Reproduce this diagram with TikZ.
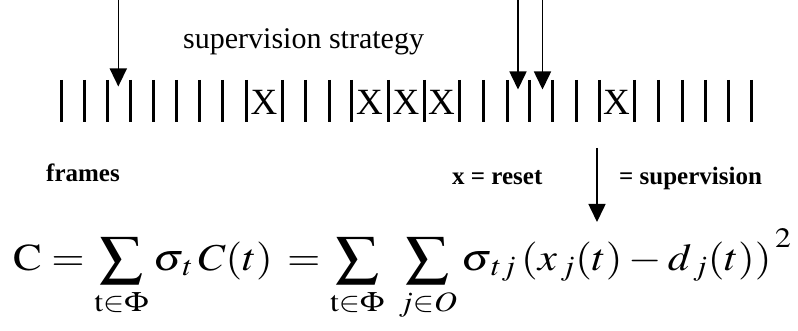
\documentclass[tikz,border=0pt]{standalone}
\usepackage{mathptmx}
\usepackage[no-math]{fontspec}
\setmainfont{Liberation Serif}
\usepackage{tikz}
\usetikzlibrary{arrows.meta}

\begin{document}
\begin{tikzpicture}[x=1pt,y=-1pt,
  slot/.style={line width=3pt},
  arr/.style={line width=1.6pt,-{Triangle[length=18pt,width=17pt]}},
  lbl/.style={anchor=base west,inner sep=0pt,font=\fontsize{30}{31}\selectfont},
  key/.style={anchor=base west,inner sep=0pt,font=\fontsize{25}{26}\selectfont\bfseries},
  rst/.style={anchor=base,inner sep=0pt,font=\fontsize{37}{37}\selectfont}]
\useasboundingbox (0,0) rectangle (798,331);
\node[lbl] (strategy) at (183,48.3) {supervision strategy};
\foreach \x in {61,84,107,130,153,176,199,222.5,246,282,305,329,351,388,424,459,483,507,529,552,576,599,634,658,682,705,728,751}
  \draw[slot] (\x,80) -- (\x,122);
\foreach \x/\n in {264/r1,369.5/r2,406/r3,441.5/r4,616.5/r5}
  \node[rst] (\n) at (\x,115) {X};
\coordinate (s1top) at (118.3,0);
\coordinate (s1) at (118.3,86.5);
\coordinate (s2top) at (518,0);
\coordinate (s2) at (518,89.5);
\coordinate (s3top) at (542.5,0);
\coordinate (s3) at (542.5,89.5);
\draw[arr] (s1top) -- (s1);
\draw[arr] (s2top) -- (s2);
\draw[arr] (s3top) -- (s3);
\node[key] (frames) at (46,181.7) {frames};
\node[key] (reset) at (452,184.3) {x = reset};
\coordinate (keytop) at (597,148);
\coordinate (key) at (597,222);
\draw[arr] (keytop) -- (key);
\node[key] (superv) at (619,184.3) {= supervision};
\node[anchor=base west,inner sep=0pt,font=\fontsize{38}{39}\selectfont] (cost) at (13,270)
  {\scalebox{1.13}[1]{$\displaystyle \mathrm{C} = \sum_{\mathstrut\mathrm{t}\in\Phi}\sigma_{\,t}\,C(t)\, = \sum_{\mathstrut\mathrm{t}\in\Phi}\;\sum_{\mathstrut j\in O}\sigma_{\,tj}\,(x_{\,j}(t)-d_{\,j}(t))^{\,\raisebox{7pt}{$\scriptstyle 2$}}$}};
\end{tikzpicture}
\end{document}
